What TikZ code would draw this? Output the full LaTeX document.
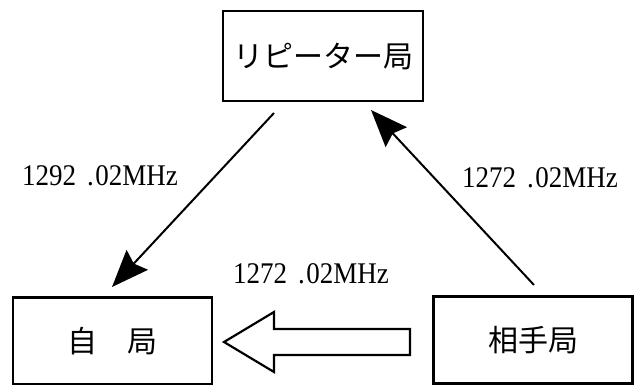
\documentclass[tikz,border=0pt]{standalone}
\usepackage{fontspec}
\setmainfont{Liberation Serif}
\newfontfamily\jpfont{Noto Sans CJK JP}
\newfontfamily\freqfont[FakeStretch=0.9]{Liberation Serif}
\usetikzlibrary{arrows.meta}
\begin{document}
\begin{tikzpicture}[x=1pt,y=-1pt,
  station/.style={draw,line width=2.9pt,minimum width=199pt,minimum height=87pt,inner sep=0pt,
    font=\jpfont\fontsize{30}{30}\selectfont},
  freq/.style={font=\freqfont\fontsize{30}{30}\selectfont,inner sep=0pt,anchor=base west},
  radio/.style={line width=2pt,-{Stealth[length=37pt,width=29pt,inset=5pt]}},
  hollow/.style={line width=2.2pt,line join=miter}]
\useasboundingbox (0,0) rectangle (637,385);
% stations
\node[station,minimum width=200pt,minimum height=90pt] (rep) at (323,56) {リピーター局};
\node[station] (self) at (112.5,341) {自　局};
\node[station] (other) at (533,340) {相手局};
% radio links
\coordinate (downstart) at (274,113);
\coordinate (downend) at (112,287);
\coordinate (upstart) at (534,285);
\coordinate (upend) at (371,110);
\draw[radio] (downstart) -- (downend);
\draw[radio] (upstart) -- (upend);
% direct hollow arrow
\draw[hollow] (224,342) -- (274,312) -- (274,329) -- (410,329) -- (410,355)
  -- (274,355) -- (274,372) -- cycle;
% labels
\node[freq] (f1) at (22,185) {1292\kern11pt.\kern1.5pt02MHz};
\node[freq] (f2) at (462,187) {1272\kern11pt.\kern1.5pt02MHz};
\node[freq] (f3) at (233,283) {1272\kern11pt.\kern1.5pt02MHz};
\end{tikzpicture}
\end{document}
